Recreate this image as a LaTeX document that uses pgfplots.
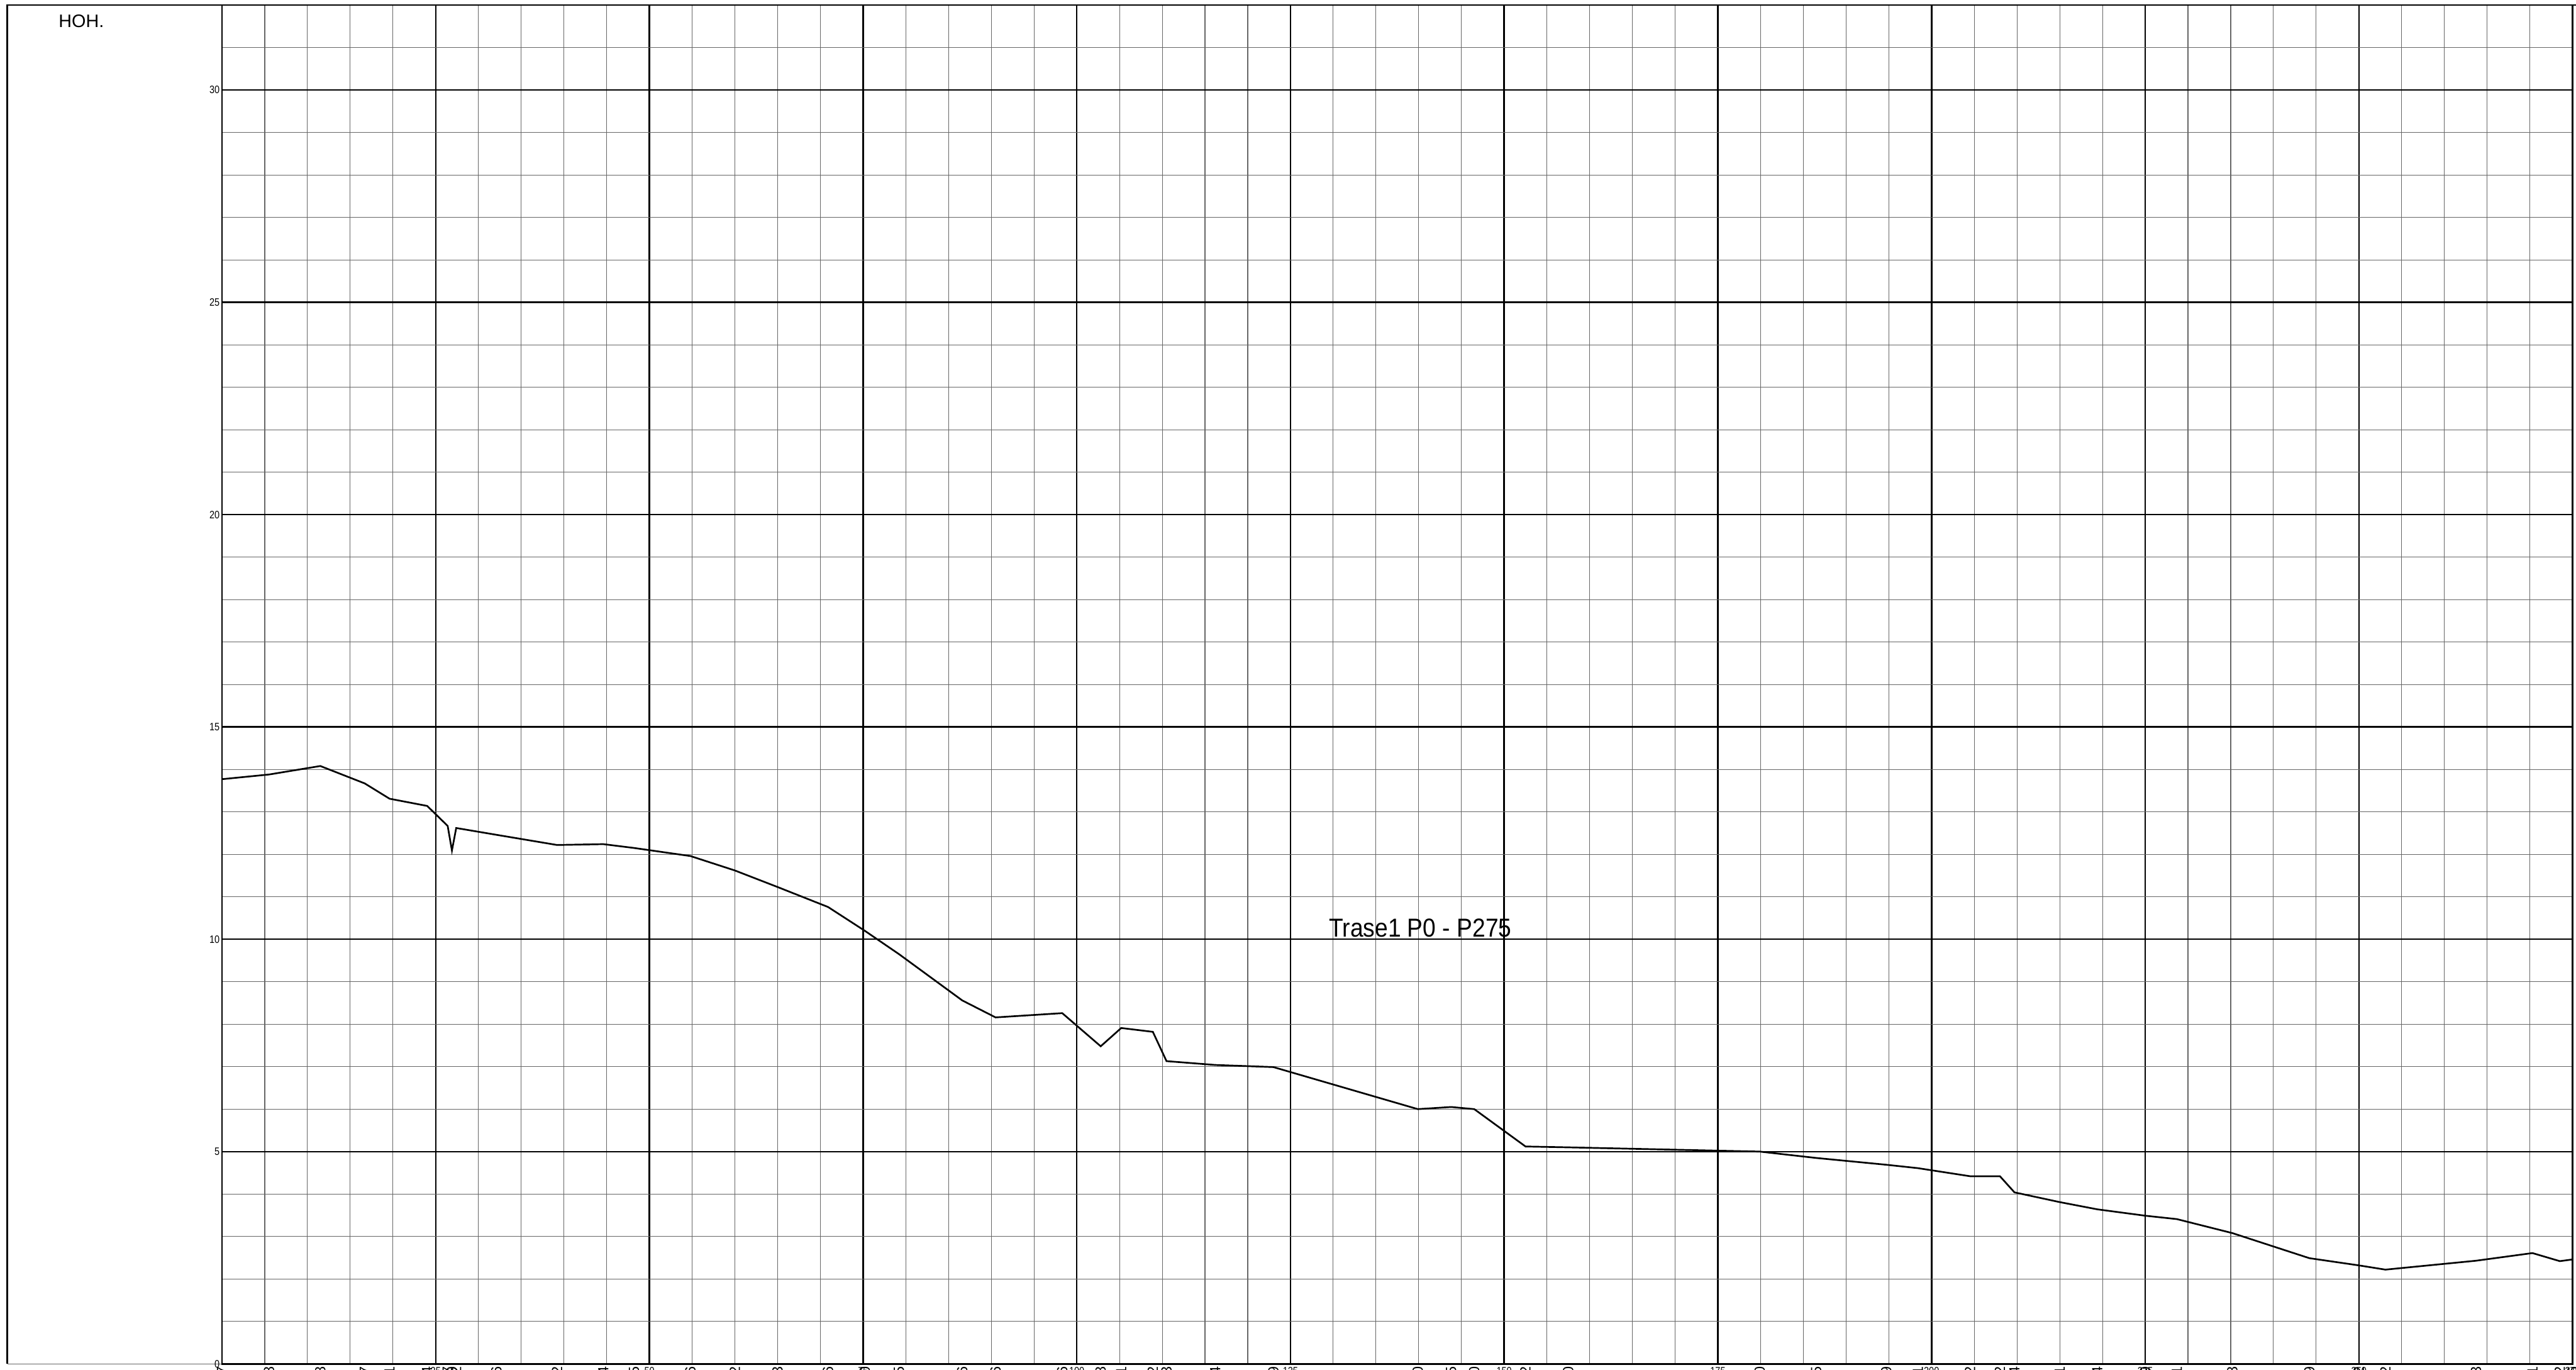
\documentclass[border=0pt]{standalone}
\usepackage{pgfplots}
\pgfplotsset{compat=1.18}
\usepackage{pgfplotstable}
\usepackage{fontspec}
\setmainfont{Liberation Sans}

\pgfplotstableread{
x y b lab
0 13.77 -0.03 13.77
5.5 13.88 -0.03 13.88
11.5 14.08 -0.03 14.08
16.7 13.67 -0.03 13.67
19.6 13.31 -0.03 13.31
24.0 13.14 -0.03 13.14
26.4 12.67 -0.03 12.67
26.9 12.09 -0.03 12.09
27.4 12.62 -0.03 12.62
32.1 12.46 -0.03 12.46
39.2 12.22 -0.03 12.22
44.6 12.24 -0.03 12.24
48.2 12.15 -0.03 12.15
54.8 11.96 -0.03 11.96
60.0 11.62 -0.03 11.62
65.0 11.23 -0.03 11.23
70.9 10.76 -0.03 10.76
75.2 10.20 -0.03 10.20
79.2 9.65 -0.03 9.65
86.6 8.56 -0.03 8.56
90.5 8.16 -0.03 8.16
98.3 8.26 -0.03 8.26
102.8 7.48 -0.03 7.48
105.2 7.91 -0.03 7.91
108.9 7.82 -0.03 7.82
110.5 7.13 -0.03 7.13
116.2 7.04 -0.03 7.04
123.0 6.99 -0.03 6.99
139.9 6.00 -0.03 6.00
143.8 6.05 -0.03 6.05
146.5 6.00 -0.03 6.00
152.5 5.12 -0.03 5.12
157.5 5.10 -0.03 5.10
179.9 5.00 -0.03 5.00
186.5 4.85 -0.03 4.85
194.7 4.69 -0.03 4.69
198.4 4.61 -0.03 4.61
204.5 4.42 -0.03 4.42
208.0 4.42 -0.03 4.42
209.7 4.04 -0.03 4.04
215.0 3.81 -0.03 3.81
219.4 3.64 -0.03 3.64
225.0 3.49 -0.03 3.49
228.7 3.41 -0.03 3.41
235.2 3.08 -0.03 3.08
244.2 2.49 -0.03 2.49
250.0 2.32 -0.03 2.32
253.1 2.22 -0.03 2.22
263.7 2.43 -0.03 2.43
270.3 2.61 -0.03 2.61
273.5 2.42 -0.03 2.42
275.0 2.46 -0.03 2.46
}\profile

\begin{document}
\begin{tikzpicture}
\useasboundingbox (0,0) rectangle (456pt,242.4pt);
\draw[line width=0.3pt] (1.3pt,1.0pt) -- (1.3pt,241.5pt) -- (460pt,241.5pt);
\draw[line width=0.13pt, black!60] (1.3pt,1.0pt) -- (39.3pt,1.0pt);
\node[anchor=base west, font=\fontsize{3.2}{3.2}\selectfont, inner sep=0pt] at (10.2pt,237.6pt) {HOH.};
\begin{axis}[
  at={(39.3pt,1.0pt)}, anchor=south west,
  scale only axis, width=416.1pt, height=240.5pt,
  xmin=0, xmax=275, ymin=0, ymax=32,
  xtick={25,50,...,275},
  ytick={0,5,...,30},
  minor xtick={5,10,15,20,30,35,40,45,55,60,65,70,80,85,90,95,105,110,115,120,130,135,140,145,155,160,165,170,180,185,190,195,205,210,215,220,230,235,240,245,255,260,265,270},
  minor ytick={1,2,3,4,6,7,8,9,11,12,13,14,16,17,18,19,21,22,23,24,26,27,28,29,31},
  grid=both,
  major grid style={black, line width=0.28pt},
  minor grid style={black!60, line width=0.12pt},
  axis line style={black, line width=0.3pt},
  tick style={draw=none},
  clip=false,
  /pgf/number format/assume math mode=true,
  yticklabel style={font=\fontsize{1.9}{1.9}\selectfont, xscale=0.85, inner sep=0.3pt},
  xticklabel style={font=\fontsize{1.9}{1.9}\selectfont, xscale=0.85, inner sep=0.4pt},
]
\addplot[black, line width=0.3pt, mark=none] table[x=x, y=y] {\profile};
\addplot[draw=none, mark=none, nodes near coords, point meta=explicit symbolic,
  nodes near coords style={rotate=90, anchor=east, font=\fontsize{2.6}{2.6}\selectfont, inner sep=0pt}]
  table[x=x, y=b, meta=lab] {\profile};
\node[anchor=base west, font=\fontsize{4.6}{4.6}\selectfont, xscale=0.9, inner sep=0pt] at (axis cs:129.4,10.05) {Trase1 P0 - P275};
\end{axis}
\end{tikzpicture}
\end{document}
